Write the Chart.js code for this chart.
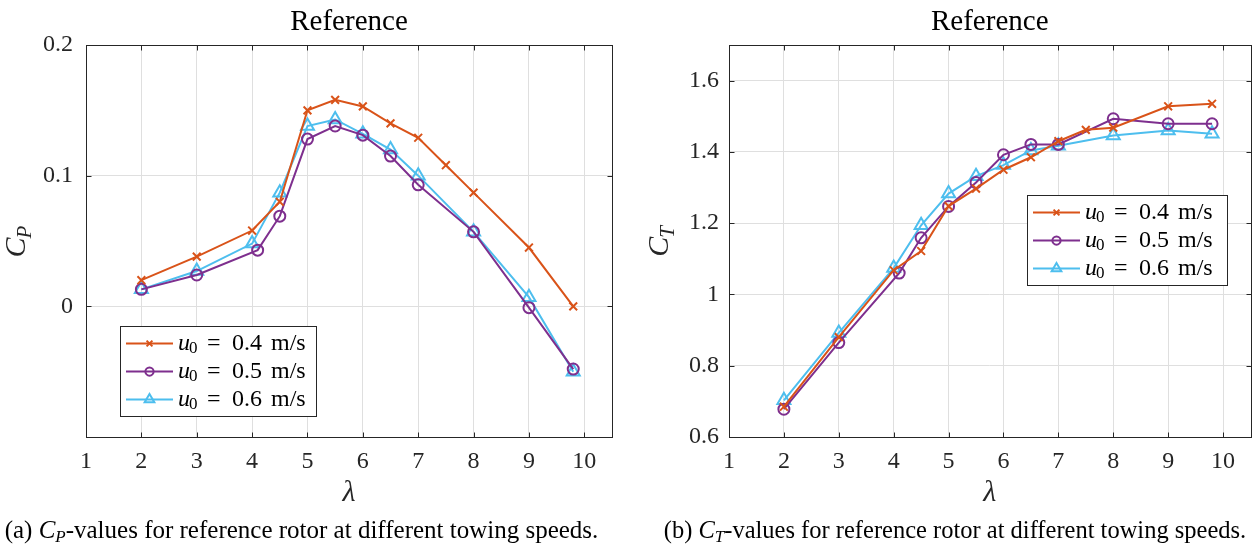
<!DOCTYPE html>
<html>
<head>
<meta charset="utf-8">
<script src="https://cdn.jsdelivr.net/npm/chart.js@4.4.1/dist/chart.umd.min.js"></script>
<style>
  body { margin: 0; background: #fff; }
  #wrap { position: relative; width: 1260px; height: 545px; }
  canvas { position: absolute; top: 0; }
  .cap {
    position: absolute; top: 517px; text-align: center;
    font-family: "Liberation Serif", serif; font-size: 25px; line-height: 26px; color: #000;
  }
  .cap sub { font-size: 17px; line-height: 0; vertical-align: -4px; }
</style>
</head>
<body>
<div id="wrap">
  <canvas id="cpChart" width="630" height="545" style="left:0"></canvas>
  <canvas id="ctChart" width="630" height="545" style="left:630px"></canvas>
  <div class="cap" style="left:0; width:603px">(a) <i>C</i><sub><i>P</i></sub>-values for reference rotor at different towing speeds.</div>
  <div class="cap" style="left:630px; width:650px; font-size:24.5px">(b) <i>C</i><sub><i>T</i></sub>-values for reference rotor at different towing speeds.</div>
</div>
<script>
// tip speed ratios for each towing speed
const lambda04 = [2, 3, 4, 4.5, 5, 5.5, 6, 6.5, 7, 7.5, 8, 9, 9.8];
const lambda05 = [2, 3, 4.1, 4.5, 5, 5.5, 6, 6.5, 7, 8, 9, 9.8];
const lambda06 = [2, 3, 4, 4.5, 5, 5.5, 6, 6.5, 7, 8, 9, 9.8];

// power coefficient
const cp04 = [0.020, 0.038, 0.058, 0.080, 0.150, 0.158, 0.153, 0.140, 0.129, 0.108, 0.087, 0.045, 0.000];
const cp05 = [0.013, 0.024, 0.043, 0.069, 0.128, 0.138, 0.131, 0.115, 0.093, 0.057, -0.001, -0.048];
const cp06 = [0.013, 0.027, 0.048, 0.087, 0.138, 0.143, 0.132, 0.120, 0.100, 0.057, 0.007, -0.050];

// thrust coefficient
const ct04 = [0.685, 0.880, 1.068, 1.122, 1.248, 1.297, 1.350, 1.385, 1.430, 1.462, 1.468, 1.528, 1.535];
const ct05 = [0.678, 0.865, 1.060, 1.159, 1.247, 1.314, 1.392, 1.421, 1.421, 1.493, 1.479, 1.479];
const ct06 = [0.703, 0.892, 1.074, 1.194, 1.283, 1.332, 1.363, 1.404, 1.417, 1.446, 1.460, 1.451];

const speedLabels = ["0.4", "0.5", "0.6"];
const xTicks = [1, 2, 3, 4, 5, 6, 7, 8, 9, 10];
const cpTicks = [-0.1, 0, 0.1, 0.2];
const ctTicks = [0.6, 0.8, 1, 1.2, 1.4, 1.6];

const colors = ["#D95319", "#7E2F8E", "#4DBEEE"];
const markers = [
  { style: "crossRot", r: 5.5 },
  { style: "circle", r: 5.5 },
  { style: "triangle", r: 7.5 },
];
const SERIF = '"Liberation Serif", serif';
const AXIS = "#262626";

function toPoints(xs, ys) {
  return xs.map((x, i) => ({ x: x, y: ys[i] }));
}

function makeDatasets(series) {
  return series.map((s, i) => ({
    label: speedLabels[i],
    data: toPoints(s[0], s[1]),
    borderColor: colors[i],
    backgroundColor: "rgba(0,0,0,0)",
    borderWidth: 2,
    tension: 0,
    pointStyle: markers[i].style,
    pointRadius: markers[i].r,
    pointBorderWidth: 2,
    pointBorderColor: colors[i],
    pointBackgroundColor: "rgba(0,0,0,0)",
  }));
}

// MATLAB-like decorations: box, inward ticks, title, labels, legend
const matlabAxes = {
  id: "matlabAxes",
  afterDraw(chart, args, opts) {
    const ctx = chart.ctx;
    const a = chart.chartArea;
    const xs = chart.scales.x;
    const ys = chart.scales.y;
    const L = Math.round(a.left) + 0.5, R = Math.round(a.right) + 0.5;
    const T = Math.round(a.top) + 0.5, B = Math.round(a.bottom) + 0.5;
    ctx.save();

    ctx.strokeStyle = AXIS;
    ctx.lineWidth = 1;
    ctx.strokeRect(L, T, R - L, B - T);
    ctx.beginPath();
    xs.ticks.forEach(t => {
      const px = Math.round(xs.getPixelForValue(t.value)) + 0.5;
      ctx.moveTo(px, B); ctx.lineTo(px, B - 5);
      ctx.moveTo(px, T); ctx.lineTo(px, T + 5);
    });
    ys.ticks.forEach(t => {
      const py = Math.round(ys.getPixelForValue(t.value)) + 0.5;
      ctx.moveTo(L, py); ctx.lineTo(L + 5, py);
      ctx.moveTo(R, py); ctx.lineTo(R - 5, py);
    });
    ctx.stroke();

    const cx = (a.left + a.right) / 2;
    ctx.fillStyle = "#000";
    ctx.textAlign = "center";
    ctx.textBaseline = "alphabetic";
    ctx.font = "29px " + SERIF;
    ctx.fillText("Reference", cx, 30);

    ctx.fillStyle = AXIS;
    ctx.font = "italic 30px " + SERIF;
    ctx.fillText("\u03bb", cx, 501);

    // y label with subscript, rotated
    ctx.save();
    ctx.translate(opts.yLabelX, (a.top + a.bottom) / 2);
    ctx.rotate(-Math.PI / 2);
    ctx.font = "italic 30px " + SERIF;
    const wC = ctx.measureText("C").width;
    ctx.font = "italic 21px " + SERIF;
    const wS = ctx.measureText(opts.ySub).width;
    const x0 = -(wC + wS) / 2;
    ctx.textAlign = "left";
    ctx.font = "italic 30px " + SERIF;
    ctx.fillText("C", x0, 0);
    ctx.font = "italic 21px " + SERIF;
    ctx.fillText(opts.ySub, x0 + wC - 1, 6);
    ctx.restore();

    // legend box
    const lg = opts.legend;
    ctx.fillStyle = "#fff";
    ctx.fillRect(lg.x, lg.y, lg.w, lg.h);
    ctx.strokeStyle = AXIS;
    ctx.strokeRect(Math.round(lg.x) + 0.5, Math.round(lg.y) + 0.5, lg.w, lg.h);
    chart.data.datasets.forEach((ds, i) => {
      const ry = lg.y + 17.5 + i * 28;
      const lx = lg.x + 6;
      ctx.strokeStyle = ds.borderColor;
      ctx.lineWidth = 2;
      ctx.beginPath();
      ctx.moveTo(lx, ry); ctx.lineTo(lx + 47, ry);
      ctx.stroke();
      ctx.fillStyle = "rgba(0,0,0,0)";
      Chart.helpers.drawPoint(ctx, {
        pointStyle: ds.pointStyle, radius: ds.pointRadius * 0.75,
        borderWidth: 2, rotation: 0,
      }, lx + 23.5, ry);

      const tx = lx + 52;
      ctx.fillStyle = "#000";
      ctx.textAlign = "left";
      ctx.textBaseline = "middle";
      ctx.font = "italic 24px " + SERIF;
      ctx.fillText("u", tx, ry);
      ctx.font = "17px " + SERIF;
      ctx.fillText("0", tx + 11, ry + 5);
      ctx.font = "24px " + SERIF;
      ctx.fillText("=", tx + 29, ry);
      ctx.fillText(ds.label, tx + 54, ry);
      ctx.fillText("m/s", tx + 93, ry);
    });
    ctx.restore();
  }
};

function makeChart(id, series, yMin, yMax, yTicks, yWidth, padRight, yPad, ySub, yLabelX, legend) {
  const ctx = document.getElementById(id).getContext("2d");
  return new Chart(ctx, {
    type: "line",
    data: { datasets: makeDatasets(series) },
    options: {
      responsive: false,
      animation: false,
      devicePixelRatio: 1,
      layout: { padding: { top: 45, left: 0, right: padRight, bottom: 0 } },
      plugins: {
        legend: { display: false },
        title: { display: false },
        tooltip: { enabled: false },
        matlabAxes: { ySub: ySub, yLabelX: yLabelX, legend: legend },
      },
      scales: {
        x: {
          type: "linear",
          min: 1, max: 10.5,
          afterBuildTicks: s => { s.ticks = xTicks.map(v => ({ value: v })); },
          afterFit: s => { s.height = 545 - 437; },
          grid: { color: "#dfdfdf", lineWidth: 1, drawTicks: false },
          border: { display: false },
          ticks: {
            padding: 10,
            color: AXIS,
            font: { family: "Liberation Serif", size: 24 },
            callback: v => String(v),
          },
        },
        y: {
          type: "linear",
          min: yMin, max: yMax,
          afterBuildTicks: s => { s.ticks = yTicks.map(v => ({ value: v })); },
          afterFit: s => { s.width = yWidth; },
          grid: { color: "#dfdfdf", lineWidth: 1, drawTicks: false },
          border: { display: false },
          ticks: {
            padding: yPad,
            color: AXIS,
            font: { family: "Liberation Serif", size: 24 },
            callback: v => (Math.abs(v + 0.1) < 1e-9 ? "" : String(Math.round(v * 10) / 10)),
          },
        },
      },
    },
    plugins: [matlabAxes],
  });
}

makeChart("cpChart",
  [[lambda04, cp04], [lambda05, cp05], [lambda06, cp06]],
  -0.1, 0.2, cpTicks, 86, 18, 13, "P", 25,
  { x: 120, y: 326, w: 196, h: 90 });

makeChart("ctChart",
  [[lambda04, ct04], [lambda05, ct05], [lambda06, ct06]],
  0.6, 1.7, ctTicks, 99, 5, 10, "T", 38,
  { x: 397, y: 195, w: 200, h: 90 });
</script>
</body>
</html>
